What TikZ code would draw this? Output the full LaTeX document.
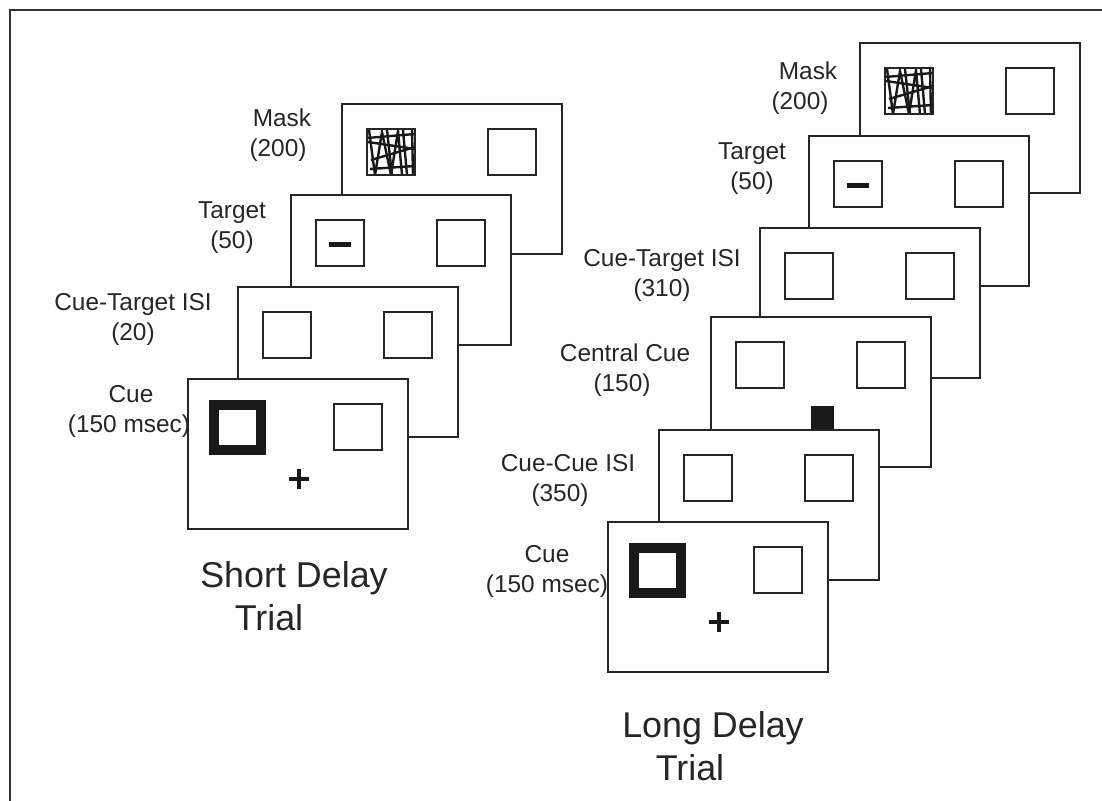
\documentclass[tikz,border=0pt]{standalone}
\usepackage{fontspec}
\setmainfont{Liberation Sans}
\tikzset{
  frameline/.style={line width=1.2bp, draw=black!80},
  screen/.style={line width=2.6bp, draw=black!85, fill=white},
  box/.style={line width=2.6bp, draw=black!85},
  cuebox/.style={line width=10bp, draw=black!90, line join=miter},
  fixation/.style={line width=3.2bp, draw=black!90},
  maskline/.style={line width=2.4bp, draw=black!90},
  lbl/.style={font=\fontsize{24.5}{30}\selectfont, inner sep=0pt, anchor=base, text=black!85},
  ttl/.style={font=\fontsize{36}{43}\selectfont, inner sep=0pt, anchor=base, text=black!85},
}
% one display screen, top-left corner at (#1,#2), contents #3
\newcommand\screenat[3]{%
  \begin{scope}[shift={(#1,#2)}]
    \filldraw[screen] (0,0) rectangle (220,150);
    #3
  \end{scope}}
\newcommand\leftbox{\draw[box] (25,25) rectangle (73,71);}
\newcommand\rightbox{\draw[box] (146,25) rectangle (194,71);}
\newcommand\cuedbox{\draw[cuebox] (26,25.5) rectangle (73,70.5);}
\newcommand\fixcross{\draw[fixation] (101,100) -- (121,100) (111,90) -- (111,110);}
\newcommand\targetbar{\fill[black!90] (38,47) rectangle (60,52);}
\newcommand\centralcue{\fill[black!90] (100,89) rectangle (123,113);}
\newcommand\maskpattern{%
  \begin{scope}[shift={(25,25)}]
    \clip (0,0) rectangle (48,46);
    \draw[maskline] (2,1) -- (8,46) -- (15,3) -- (24,46) -- (31,2) -- (35,46);
    \draw[maskline] (20,1) -- (25,46);
    \draw[maskline] (36,1) -- (40,46);
    \draw[maskline] (45,0) -- (46,46);
    \draw[maskline] (0,9) -- (48,5);
    \draw[maskline] (1,13) -- (48,20);
    \draw[maskline] (4,31) -- (48,18);
    \draw[maskline] (3,40) -- (48,37);
  \end{scope}
  \leftbox}
\newcommand\lab[4]{\node[lbl] (#1) at (#2,#3) {#4};}
\begin{document}
\begin{tikzpicture}[x=1bp,y=-1bp]
\useasboundingbox (0,0) rectangle (1102,801);
\draw[frameline] (10,801) -- (10,10) -- (1102,10);

% ---------------- short delay trial ----------------
\screenat{342}{104}{\maskpattern\rightbox}
\screenat{291}{195}{\leftbox\targetbar\rightbox}
\screenat{238}{287}{\leftbox\rightbox}
\screenat{188}{379}{\cuedbox\rightbox\fixcross}

\lab{sm1}{282}{126}{Mask}
\lab{sm2}{278}{156}{(200)}
\lab{st1}{232}{218}{Target}
\lab{st2}{232}{248}{(50)}
\lab{si1}{133}{310}{Cue-Target ISI}
\lab{si2}{133}{340}{(20)}
\lab{sc1}{131}{402}{Cue}
\lab{sc2}{129}{432}{(150 msec)}
\node[ttl] (stitle1) at (294,587) {Short Delay};
\node[ttl] (stitle2) at (269,630) {Trial};

% ---------------- long delay trial ----------------
\screenat{860}{43}{\maskpattern\rightbox}
\screenat{809}{136}{\leftbox\targetbar\rightbox}
\screenat{760}{228}{\leftbox\rightbox}
\screenat{711}{317}{\leftbox\rightbox\centralcue}
\screenat{659}{430}{\leftbox\rightbox}
\screenat{608}{522}{\cuedbox\rightbox\fixcross}

\lab{lm1}{808}{80}{Mask}
\lab{lm2}{800}{110}{(200)}
\lab{lt1}{752}{159}{Target}
\lab{lt2}{752}{189}{(50)}
\lab{li1}{662}{266}{Cue-Target ISI}
\lab{li2}{662}{296}{(310)}
\lab{lc1}{625}{361}{Central Cue}
\lab{lc2}{622}{391}{(150)}
\lab{lcc1}{568}{471}{Cue-Cue ISI}
\lab{lcc2}{560}{501}{(350)}
\lab{lq1}{547}{562}{Cue}
\lab{lq2}{547}{592}{(150 msec)}
\node[ttl] (ltitle1) at (713,737) {Long Delay};
\node[ttl] (ltitle2) at (690,780) {Trial};
\end{tikzpicture}
\end{document}
